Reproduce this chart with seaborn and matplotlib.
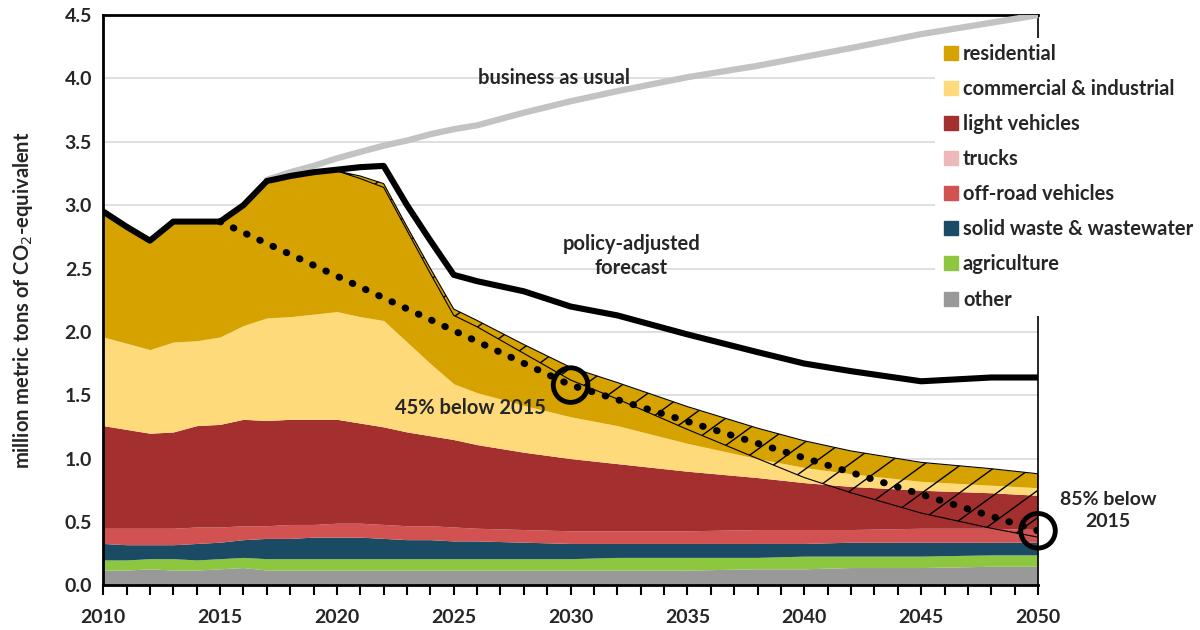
import numpy as np
import matplotlib
matplotlib.use("Agg")
import matplotlib.pyplot as plt
from matplotlib.lines import Line2D
from matplotlib.collections import LineCollection
import seaborn as sns

# years used for the sector stack (annual to 2026, then coarser)
years = [2010, 2011, 2012, 2013, 2014, 2015, 2016, 2017, 2018, 2019, 2020, 2021, 2022,
         2023, 2024, 2025, 2026, 2028, 2030, 2032, 2035, 2038, 2040, 2042, 2045, 2048, 2050]

# sector emissions (million t CO2e), bottom to top of the stack
other = [0.12, 0.12, 0.13, 0.12, 0.12, 0.13, 0.14, 0.12, 0.12, 0.12, 0.12, 0.12, 0.12,
         0.12, 0.12, 0.12, 0.12, 0.12, 0.12, 0.12, 0.12, 0.13, 0.13, 0.14, 0.14, 0.15, 0.15]
agriculture = [0.08, 0.08, 0.08, 0.09, 0.08, 0.08, 0.08, 0.09, 0.09, 0.09, 0.09, 0.09, 0.09,
               0.09, 0.09, 0.09, 0.09, 0.09, 0.09, 0.10, 0.10, 0.09, 0.10, 0.09, 0.09, 0.09, 0.09]
solid_waste = [0.13, 0.12, 0.11, 0.11, 0.13, 0.13, 0.14, 0.16, 0.16, 0.17, 0.17, 0.17, 0.16,
               0.15, 0.15, 0.14, 0.14, 0.13, 0.12, 0.11, 0.11, 0.11, 0.10, 0.11, 0.11, 0.10, 0.10]
off_road = [0.12, 0.13, 0.13, 0.13, 0.13, 0.12, 0.11, 0.10, 0.11, 0.10, 0.11, 0.11, 0.11,
            0.11, 0.11, 0.11, 0.10, 0.10, 0.10, 0.10, 0.10, 0.11, 0.11, 0.10, 0.11, 0.11, 0.10]
trucks = [0.0] * 27
light_vehicles = [0.81, 0.78, 0.75, 0.76, 0.80, 0.81, 0.84, 0.83, 0.83, 0.83, 0.82, 0.79, 0.77,
                  0.74, 0.71, 0.69, 0.66, 0.61, 0.57, 0.53, 0.47, 0.41, 0.37, 0.34, 0.30, 0.28, 0.27]
commercial = [0.70, 0.68, 0.66, 0.71, 0.67, 0.69, 0.74, 0.81, 0.81, 0.83, 0.85, 0.84, 0.84,
              0.71, 0.57, 0.44, 0.41, 0.37, 0.33, 0.30, 0.22, 0.15, 0.12, 0.10, 0.07, 0.06, 0.06]
residential = [0.97, 0.91, 0.84, 0.93, 0.92, 0.89, 0.93, 1.06, 1.10, 1.11, 1.11, 1.11, 1.08,
               0.91, 0.75, 0.59, 0.57, 0.48, 0.39, 0.34, 0.29, 0.24, 0.21, 0.18, 0.15, 0.13, 0.11]

# lower edge of the hatched band (years 2020 onward)
hatch_lower = [3.27, 3.21, 3.14, 2.80, 2.46, 2.13, 2.04, 1.83, 1.62, 1.47, 1.23, 1.00, 0.85,
               0.73, 0.57, 0.45, 0.38]

# policy-adjusted forecast (thick black line)
policy = [2.95, 2.83, 2.72, 2.87, 2.87, 2.87, 3.00, 3.19, 3.23, 3.26, 3.28, 3.30, 3.31,
          3.00, 2.72, 2.45, 2.40, 2.32, 2.20, 2.13, 1.98, 1.84, 1.75, 1.69, 1.61, 1.64, 1.64]

# business as usual (grey line)
bau_years = [2017, 2018, 2019, 2020, 2021, 2022, 2023, 2024, 2025, 2026, 2028, 2030, 2032,
             2035, 2038, 2040, 2042, 2045, 2048, 2050]
bau = [3.20, 3.26, 3.31, 3.37, 3.42, 3.47, 3.51, 3.56, 3.60, 3.63, 3.73, 3.82, 3.90,
       4.01, 4.10, 4.17, 4.24, 4.35, 4.44, 4.50]

# reduction targets
target_years = [2015, 2030, 2050]
target = [2.87, 1.58, 0.43]

labels = ["other", "agriculture", "solid waste & wastewater", "off-road vehicles",
          "trucks", "light vehicles", "commercial & industrial", "residential"]
colors = ["#999999", "#8DC63F", "#1B4A64", "#D25252", "#EDB8B8", "#A3302E", "#FFDA7B", "#D5A200"]

sns.set_theme(style="white")
plt.rcParams['font.family'] = ['Lato', 'DejaVu Sans']

fig = plt.figure(figsize=(12, 6.3), dpi=100)
ax = fig.add_axes([0.086, 0.071, 0.779, 0.905])

stack = [other, agriculture, solid_waste, off_road, trucks, light_vehicles, commercial, residential]
ax.stackplot(years, *stack, colors=colors, linewidth=0, zorder=1)

# hatched band between the stack top and the lower edge
total = np.sum(np.array(stack), axis=0)
yrs = np.array(years)
mask = yrs >= 2020
band = ax.fill_between(yrs[mask], hatch_lower, total[mask], facecolor="none",
                       edgecolor="black", linewidth=0.8, zorder=2)
# sparse diagonal hatch, clipped to the band
starts = np.arange(1990, 2052, 1.6)
segs = [[(x0, 0), (x0 + 40, 40 * 0.134)] for x0 in starts]
hatch = LineCollection(segs, colors="black", linewidths=1.0, zorder=2)
ax.add_collection(hatch)
hatch.set_clip_path(band.get_paths()[0], band.get_transform())

sns.lineplot(x=bau_years, y=bau, color="#C3C3C3", linewidth=4.5, ax=ax, zorder=3)
sns.lineplot(x=years, y=policy, color="black", linewidth=4.4, ax=ax, zorder=4)
ax.plot(target_years, target, color="black", linewidth=5, linestyle=(0, (0.1, 2.0)),
        dash_capstyle="round", zorder=5)
ax.scatter(target_years[1:], target[1:], s=620, facecolors="none", edgecolors="black",
           linewidths=3.5, zorder=6, clip_on=False)

ax.set_xlim(2010, 2050)
ax.set_ylim(0, 4.5)
ax.set_xticks(range(2010, 2051, 5))
ax.set_xticks(range(2010, 2051, 1), minor=True)
ax.set_yticks(np.arange(0, 4.51, 0.5))
ax.set_yticklabels([f"{v:.1f}" for v in np.arange(0, 4.51, 0.5)])
ax.tick_params(axis="x", which="both", direction="out", length=7, width=1.5, color="black",
               bottom=True, pad=10, labelsize=14)
ax.tick_params(axis="y", length=0, pad=8, labelsize=14)
for lab in ax.get_xticklabels() + ax.get_yticklabels():
    lab.set_fontweight("bold")
ax.yaxis.grid(True, color="#D9D9D9", linewidth=1.2)
ax.set_axisbelow(True)
for side in ["left", "bottom", "top"]:
    ax.spines[side].set_color("black")
    ax.spines[side].set_linewidth(2)
ax.spines["right"].set_color("black")
ax.spines["right"].set_linewidth(1.2)

ax.set_ylabel("million metric tons of CO$_2$-equivalent", fontsize=14.5, fontweight="bold",
              labelpad=21)

ax.text(2029.3, 4.0, "business as usual", ha="center", va="center", fontsize=14.5, fontweight="bold")
ax.text(2032.6, 2.6, "policy-adjusted\nforecast", ha="center", va="center", fontsize=14.5,
        fontweight="bold", linespacing=1.25)
ax.text(2025.7, 1.40, "45% below 2015", ha="center", va="center", fontsize=14.5, fontweight="bold")
ax.text(2053.0, 0.59, "85% below\n2015", ha="center", va="center", fontsize=14,
        fontweight="bold", linespacing=1.3, clip_on=False)

handles = [Line2D([], [], marker="s", linestyle="none", markersize=9.5, color=c)
           for c in colors[::-1]]
leg = fig.legend(handles, labels[::-1], loc="upper left", bbox_to_anchor=(0.779, 0.94),
                 frameon=True, facecolor="white", edgecolor="none", framealpha=1,
                 fontsize=14.5, labelspacing=0.75, handletextpad=0.1, handlelength=1.0,
                 borderpad=0.3, borderaxespad=0)
for t in leg.get_texts():
    t.set_fontweight("bold")

fig.savefig("out.png", dpi=100)
